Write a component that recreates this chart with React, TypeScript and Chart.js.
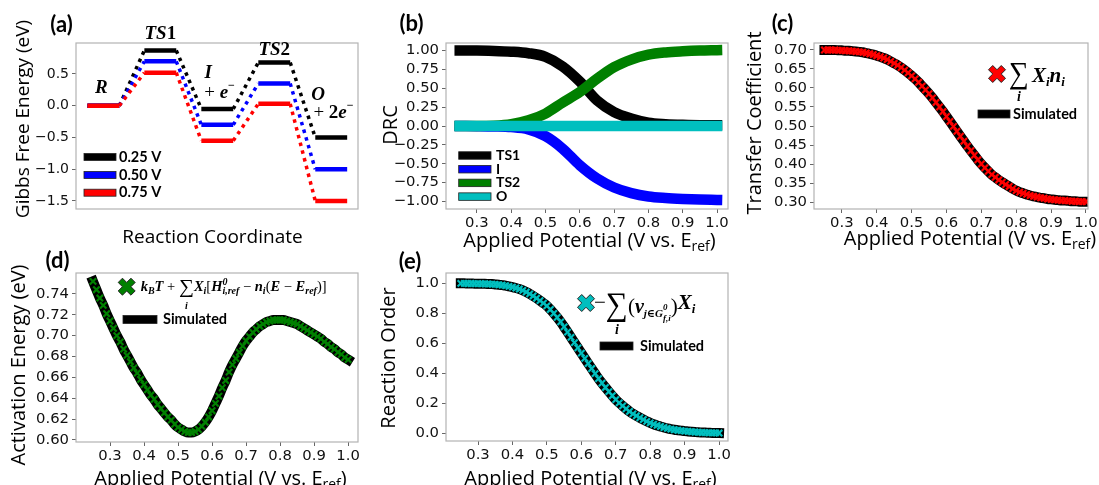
import React, { useEffect, useRef } from "react";
import { Chart, registerables } from "chart.js";

Chart.register(...registerables);

// ---------------- data ----------------
// (a) free-energy diagram
const A_STATES = ["R", "TS1", "I", "TS2", "O"];
const A_SERIES = ["0.25 V", "0.50 V", "0.75 V"];
const A_G_025 = [0, 0.87, -0.05, 0.68, -0.5];
const A_G_050 = [0, 0.7, -0.3, 0.35, -1.0];
const A_G_075 = [0, 0.52, -0.55, 0.03, -1.5];
const A_Y_TICKS = [-1.5, -1.0, -0.5, 0.0, 0.5];

// (b) degree of rate control
const B_POT = [0.25, 0.3, 0.35, 0.4, 0.45, 0.5, 0.55, 0.6, 0.65, 0.7, 0.75, 0.8, 0.85, 0.9, 0.95, 1.0];
const B_TS1 = [1.0, 1.0, 0.995, 0.985, 0.965, 0.917, 0.79, 0.59, 0.34, 0.185, 0.1, 0.045, 0.025, 0.015, 0.01, 0.01];
const B_I = [0.0, -0.002, -0.006, -0.015, -0.045, -0.135, -0.3, -0.52, -0.695, -0.815, -0.89, -0.935, -0.955, -0.967, -0.975, -0.98];
const B_TS2 = [0.0, 0.0, 0.005, 0.025, 0.075, 0.165, 0.31, 0.45, 0.625, 0.78, 0.88, 0.945, 0.975, 0.99, 1.0, 1.005];
const B_O = [0, 0, 0, 0, 0, 0, 0, 0, 0, 0, 0, 0, 0, 0, 0, 0];
const B_LABELS = ["TS1", "I", "TS2", "O"];
const B_Y_TICKS = [-1.0, -0.75, -0.5, -0.25, 0.0, 0.25, 0.5, 0.75, 1.0];
const POT_TICKS = [0.3, 0.4, 0.5, 0.6, 0.7, 0.8, 0.9, 1.0];

// (c)-(e) fine potential grid
const POT = [
  0.25, 0.26, 0.27, 0.28, 0.29, 0.3, 0.31, 0.32, 0.33, 0.34, 0.35, 0.36, 0.37, 0.38, 0.39, 0.4,
  0.41, 0.42, 0.43, 0.44, 0.45, 0.46, 0.47, 0.48, 0.49, 0.5, 0.51, 0.52, 0.53, 0.54, 0.55,
  0.56, 0.57, 0.58, 0.59, 0.6, 0.61, 0.62, 0.63, 0.64, 0.65, 0.66, 0.67, 0.68, 0.69, 0.7,
  0.71, 0.72, 0.73, 0.74, 0.75, 0.76, 0.77, 0.78, 0.79, 0.8, 0.81, 0.82, 0.83, 0.84, 0.85,
  0.86, 0.87, 0.88, 0.89, 0.9, 0.91, 0.92, 0.93, 0.94, 0.95, 0.96, 0.97, 0.98, 0.99, 1.0,
];
const C_TRANSFER = [
  0.7, 0.7, 0.7, 0.7, 0.699, 0.699, 0.698, 0.698, 0.697, 0.696, 0.695, 0.694, 0.692, 0.69, 0.688, 0.685,
  0.682, 0.679, 0.675, 0.67, 0.665, 0.66, 0.654, 0.647, 0.64, 0.632, 0.624, 0.615, 0.605, 0.595, 0.585,
  0.574, 0.562, 0.55, 0.538, 0.525, 0.512, 0.499, 0.486, 0.473, 0.46, 0.447, 0.435, 0.423, 0.411, 0.4,
  0.39, 0.381, 0.372, 0.365, 0.358, 0.352, 0.346, 0.341, 0.335, 0.33, 0.326, 0.323, 0.32, 0.317, 0.315,
  0.313, 0.311, 0.31, 0.308, 0.307, 0.306, 0.305, 0.304, 0.304, 0.303, 0.302, 0.302, 0.301, 0.301, 0.301,
];
const C_Y_TICKS = [0.3, 0.35, 0.4, 0.45, 0.5, 0.55, 0.6, 0.65, 0.7];
const D_EA = [
  0.752, 0.744, 0.736, 0.729, 0.721, 0.714, 0.707, 0.7, 0.694, 0.687, 0.681, 0.675, 0.669, 0.664, 0.658, 0.653,
  0.648, 0.643, 0.639, 0.634, 0.63, 0.626, 0.622, 0.619, 0.615, 0.612, 0.61, 0.608, 0.607, 0.607, 0.608,
  0.61, 0.613, 0.617, 0.622, 0.628, 0.635, 0.642, 0.65, 0.657, 0.665, 0.672, 0.678, 0.684, 0.69, 0.695,
  0.699, 0.703, 0.706, 0.709, 0.711, 0.713, 0.714, 0.715, 0.715, 0.715, 0.715, 0.714, 0.713, 0.712, 0.711,
  0.709, 0.707, 0.705, 0.703, 0.701, 0.699, 0.697, 0.694, 0.692, 0.689, 0.687, 0.684, 0.682, 0.679, 0.677,
];
const D_Y_TICKS = [0.6, 0.62, 0.64, 0.66, 0.68, 0.7, 0.72, 0.74];
const E_ORDER = [
  1.0, 1.0, 0.999, 0.999, 0.998, 0.998, 0.997, 0.997, 0.996, 0.995, 0.993, 0.991, 0.988, 0.985, 0.98, 0.975,
  0.969, 0.962, 0.953, 0.942, 0.93, 0.916, 0.901, 0.885, 0.868, 0.85, 0.826, 0.8, 0.773, 0.743, 0.71,
  0.675, 0.64, 0.605, 0.57, 0.535, 0.5, 0.466, 0.432, 0.398, 0.365, 0.335, 0.306, 0.278, 0.251, 0.225,
  0.203, 0.183, 0.164, 0.146, 0.13, 0.117, 0.104, 0.092, 0.08, 0.07, 0.061, 0.053, 0.046, 0.039, 0.033,
  0.028, 0.024, 0.021, 0.018, 0.015, 0.013, 0.011, 0.009, 0.007, 0.006, 0.005, 0.004, 0.003, 0.003, 0.002,
];
const E_Y_TICKS = [0.0, 0.2, 0.4, 0.6, 0.8, 1.0];

// ---------------- style ----------------
const BLACK = "#000000";
const BLUE = "#0000ff";
const RED = "#ff0000";
const GREEN = "#008000";
const CYAN = "#00bfbf";
const A_COLORS = [BLACK, BLUE, RED];
const B_COLORS = [BLACK, BLUE, GREEN, CYAN];
const SANS = "'Open Sans', 'DejaVu Sans', sans-serif";
const TICK = "'DejaVu Sans', sans-serif";
const LBL = "Lato, 'Open Sans', sans-serif";
const MATH = "'Liberation Serif', 'DejaVu Serif', serif";
const bi = (s: number) => `bold italic ${s}px ${MATH}`;
const bm = (s: number) => `bold ${s}px ${MATH}`;
const rm = (s: number) => `${s}px ${MATH}`;
const LEVEL_W = 0.56;

type Run = {
  t: string; f: string; dy?: number; dx?: number; noAdv?: boolean;
  box?: [number, number];
  under?: { t: string; f: string; dy: number };
};

function runsWidth(ctx: CanvasRenderingContext2D, runs: Run[]) {
  let w = 0;
  for (const r of runs) {
    ctx.font = r.f;
    w += (r.dx || 0) + (r.noAdv ? 0 : ctx.measureText(r.t).width);
  }
  return w;
}

function drawRuns(ctx: CanvasRenderingContext2D, x: number, y: number, runs: Run[], align: "left" | "center" = "left", color = "#000") {
  const total = runsWidth(ctx, runs);
  let cx = align === "center" ? x - total / 2 : x;
  ctx.textAlign = "left";
  ctx.textBaseline = "alphabetic";
  ctx.fillStyle = color;
  for (const r of runs) {
    ctx.font = r.f;
    cx += r.dx || 0;
    const m = ctx.measureText(r.t);
    const w = m.width;
    if (r.box) {
      // stretch glyph vertically so its ink spans [y+box0, y+box1]
      const asc = m.actualBoundingBoxAscent || 0;
      const desc = m.actualBoundingBoxDescent || 0;
      const sy = (r.box[1] - r.box[0]) / Math.max(1, asc + desc);
      ctx.save();
      ctx.translate(cx, y + r.box[1] - desc * sy);
      ctx.scale(1, sy);
      ctx.fillText(r.t, 0, 0);
      ctx.restore();
    } else {
      ctx.fillText(r.t, cx, y + (r.dy || 0));
    }
    if (r.under) {
      ctx.font = r.under.f;
      const uw = ctx.measureText(r.under.t).width;
      ctx.fillText(r.under.t, cx + w / 2 - uw / 2, y + r.under.dy);
    }
    if (!r.noAdv) cx += w;
  }
}

function panelLabel(ctx: CanvasRenderingContext2D, t: string, x: number, y: number) {
  ctx.font = `bold 22px ${LBL}`;
  ctx.fillStyle = "#000";
  ctx.textAlign = "center";
  ctx.textBaseline = "middle";
  ctx.fillText(t, x, y);
}

function yTitle(ctx: CanvasRenderingContext2D, t: string, x: number, y: number, size: number) {
  ctx.save();
  ctx.translate(x, y);
  ctx.rotate(-Math.PI / 2);
  ctx.font = `${size}px ${SANS}`;
  ctx.fillStyle = "#000";
  ctx.textAlign = "center";
  ctx.textBaseline = "middle";
  ctx.fillText(t, 0, 0);
  ctx.restore();
}

function potentialTitle(ctx: CanvasRenderingContext2D, x: number, y: number, size: number) {
  drawRuns(ctx, x, y, [
    { t: "Applied Potential (V vs. E", f: `${size}px ${SANS}` },
    { t: "ref", f: `${Math.round(size * 0.7)}px ${SANS}`, dy: size * 0.22 },
    { t: ")", f: `${size}px ${SANS}` },
  ], "center");
}

function patch(ctx: CanvasRenderingContext2D, x: number, cy: number, w: number, h: number, color: string) {
  ctx.fillStyle = color;
  ctx.fillRect(x, cy - h / 2, w, h);
  ctx.strokeStyle = "#222";
  ctx.lineWidth = 0.8;
  ctx.strokeRect(x, cy - h / 2, w, h);
}

function legendText(ctx: CanvasRenderingContext2D, t: string, x: number, cy: number, size: number) {
  ctx.font = `bold ${size}px ${LBL}`;
  ctx.fillStyle = "#000";
  ctx.textAlign = "left";
  ctx.textBaseline = "middle";
  ctx.fillText(t, x, cy);
}

function xMarker(ctx: CanvasRenderingContext2D, cx: number, cy: number, h: number, fill: string) {
  const pts = [[-1, -3], [-1, -1], [-3, -1], [-3, 1], [-1, 1], [-1, 3], [1, 3], [1, 1], [3, 1], [3, -1], [1, -1], [1, -3]];
  const s = h / 3;
  const c = Math.SQRT1_2;
  ctx.beginPath();
  pts.forEach(([px, py], i) => {
    const x = cx + (px - py) * c * s;
    const y = cy + (px + py) * c * s;
    if (i === 0) ctx.moveTo(x, y);
    else ctx.lineTo(x, y);
  });
  ctx.closePath();
  ctx.fillStyle = fill;
  ctx.fill();
  ctx.lineWidth = 1;
  ctx.strokeStyle = "#222";
  ctx.stroke();
}

const fmt = (v: number, d: number) => v.toFixed(d).replace("-", "\u2212");

type Panel = {
  left: number; top: number; w: number; h: number;
  area: [number, number, number, number];
};

function axis(p: Panel, horizontal: boolean, min: number, max: number, ticks: number[], dec: number, fontSize = 14.8) {
  const size = horizontal ? p.top + p.h - p.area[3] : p.area[0] - p.left;
  return {
    type: "linear",
    position: horizontal ? "bottom" : "left",
    min,
    max,
    afterBuildTicks: (s: any) => {
      s.ticks = ticks.map((v) => ({ value: v }));
    },
    afterFit: (s: any) => {
      if (horizontal) {
        s.height = size;
        s.paddingLeft = 0;
        s.paddingRight = 0;
      } else {
        s.width = size;
        s.paddingTop = 0;
        s.paddingBottom = 0;
      }
    },
    ticks: {
      display: ticks.length > 0,
      autoSkip: false,
      maxRotation: 0,
      minRotation: 0,
      padding: horizontal ? 1 : 3,
      color: "#111",
      font: { family: TICK, size: fontSize },
      callback: (v: any) => fmt(Number(v), dec),
    },
    grid: {
      display: true,
      drawOnChartArea: false,
      drawTicks: true,
      tickLength: 4,
      tickWidth: 1,
      tickColor: "#666",
      color: "rgba(0,0,0,0)",
    },
    border: { display: false },
  };
}

function config(p: Panel, datasets: any[], x: any, y: any, decorate: (ctx: CanvasRenderingContext2D, chart: any, P: (x: number, y: number) => [number, number]) => void) {
  const P = (x: number, y: number): [number, number] => [x - p.left, y - p.top];
  return {
    type: "line",
    data: { datasets },
    options: {
      animation: false,
      responsive: false,
      devicePixelRatio: 1,
      events: [],
      layout: { padding: { left: 0, bottom: 0, top: p.area[1] - p.top, right: p.left + p.w - p.area[2] } },
      scales: { x, y },
      plugins: { legend: { display: false }, tooltip: { enabled: false }, title: { display: false } },
      elements: { point: { radius: 0 }, line: { tension: 0 } },
    },
    plugins: [
      {
        id: "decor",
        afterDraw(chart: any) {
          const ctx: CanvasRenderingContext2D = chart.ctx;
          const a = chart.chartArea;
          ctx.save();
          ctx.strokeStyle = "#b3b3b3";
          ctx.lineWidth = 1.2;
          ctx.strokeRect(a.left, a.top, a.right - a.left, a.bottom - a.top);
          decorate(ctx, chart, P);
          ctx.restore();
        },
      },
    ],
  };
}

const pts = (xs: number[], ys: number[]) => xs.map((x, i) => ({ x, y: ys[i] }));

// ---------------- panels ----------------
const PA: Panel = { left: 0, top: 0, w: 368, h: 252, area: [76, 43, 358, 209] };
const PB: Panel = { left: 368, top: 0, w: 367, h: 252, area: [446, 43, 728, 209] };
const PC: Panel = { left: 735, top: 0, w: 364, h: 252, area: [814, 43, 1088, 209] };
const PD: Panel = { left: 0, top: 240, w: 368, h: 245, area: [76, 273, 358, 442] };
const PE: Panel = { left: 368, top: 240, w: 367, h: 245, area: [446, 273, 728, 441] };

function buildA() {
  const series = [A_G_025, A_G_050, A_G_075];
  const datasets: any[] = [];
  series.forEach((g, k) => {
    const levels: any[] = [];
    const links: any[] = [];
    A_STATES.forEach((_, i) => {
      levels.push({ x: i, y: g[i] }, { x: i + LEVEL_W, y: g[i] }, { x: i + LEVEL_W, y: null });
      if (i < A_STATES.length - 1) {
        links.push({ x: i + LEVEL_W, y: g[i] }, { x: i + 1, y: g[i + 1] }, { x: i + 1, y: null });
      }
    });
    const ord = (2 - k) * 2;
    datasets.push({ label: A_SERIES[k], data: levels, borderColor: A_COLORS[k], borderWidth: 4.5, borderCapStyle: "butt", spanGaps: false, clip: 0, order: ord });
    datasets.push({ label: A_SERIES[k] + " link", data: links, borderColor: A_COLORS[k], borderWidth: 3.5, borderDash: [3.5, 4.5], borderCapStyle: "butt", spanGaps: false, clip: 0, order: ord + 1 });
  });
  return config(PA, datasets, axis(PA, true, -0.2, 4.75, [], 1), axis(PA, false, -1.626, 0.988, A_Y_TICKS, 1, 14), (ctx, chart, P) => {
    panelLabel(ctx, "(a)", ...P(61.5, 25));
    yTitle(ctx, "Gibbs Free Energy (eV)", ...P(24, 119), 19);
    ctx.font = `19px ${SANS}`;
    ctx.fillStyle = "#000";
    ctx.textAlign = "center";
    ctx.textBaseline = "alphabetic";
    ctx.fillText("Reaction Coordinate", ...P(212.5, 242.5));
    const rows = [157, 175, 192.7];
    A_SERIES.forEach((s, k) => {
      const [lx, ly] = P(84, rows[k]);
      patch(ctx, lx, ly, 32, 7, A_COLORS[k]);
      legendText(ctx, s, lx + 35, ly, 14.5);
    });
    const sx = chart.scales.x;
    const sy = chart.scales.y;
    const at = (x: number, y: number, runs: Run[]) => drawRuns(ctx, sx.getPixelForValue(x), sy.getPixelForValue(y), runs, "center");
    at(0.245, 0.2, [{ t: "R", f: bi(19) }]);
    at(1.28, 1.05, [{ t: "TS", f: bi(19) }, { t: "1", f: bm(19) }]);
    at(2.12, 0.437, [{ t: "I", f: bi(19) }]);
    at(2.32, 0.122, [{ t: "+ ", f: rm(19) }, { t: "e", f: bi(19) }, { t: "\u2212", f: bm(12), dy: -9 }]);
    at(3.28, 0.8, [{ t: "TS", f: bi(19) }, { t: "2", f: bm(19) }]);
    at(4.05, 0.09, [{ t: "O", f: bi(19) }]);
    at(4.32, -0.193, [{ t: "+ ", f: rm(19) }, { t: "2", f: bm(19) }, { t: "e", f: bi(19) }, { t: "\u2212", f: bm(12), dy: -9 }]);
  });
}

function buildB() {
  const ys = [B_TS1, B_I, B_TS2, B_O];
  const orders = [3, 2, 1, 0];
  const datasets = ys.map((v, k) => ({
    label: B_LABELS[k],
    data: pts(B_POT, v),
    borderColor: B_COLORS[k],
    borderWidth: 10.5,
    borderCapStyle: "square",
    cubicInterpolationMode: "monotone",
    clip: 0,
    order: orders[k],
  }));
  return config(PB, datasets, axis(PB, true, 0.21, 1.032, POT_TICKS, 1), axis(PB, false, -1.1, 1.1, B_Y_TICKS, 2), (ctx, chart, P) => {
    panelLabel(ctx, "(b)", ...P(411.5, 24));
    yTitle(ctx, "DRC", ...P(391, 125), 20);
    potentialTitle(ctx, ...P(589.5, 247), 20);
    B_LABELS.forEach((s, k) => {
      const [lx, ly] = P(458.7, 155.5 + k * 13.7);
      patch(ctx, lx, ly, 32.3, 7.5, B_COLORS[k]);
      legendText(ctx, s, lx + 37.3, ly, 14);
    });
  });
}

function modelChart(p: Panel, values: number[], color: string, yMin: number, yMax: number, xMax: number, xMin: number, yTicks: number[], dec: number, decorate: any) {
  const datasets = [
    { label: "model", data: pts(POT, values), showLine: false, pointStyle: "crossRot", pointRadius: 4.5, pointBorderWidth: 2.2, pointBorderColor: color, pointBackgroundColor: color, clip: 0, order: 0 },
    { label: "Simulated", data: pts(POT, values), borderColor: BLACK, borderWidth: 10, borderCapStyle: "square", cubicInterpolationMode: "monotone", pointRadius: 0, clip: 0, order: 1 },
  ];
  return config(p, datasets, axis(p, true, xMin, xMax, POT_TICKS, 1), axis(p, false, yMin, yMax, yTicks, dec), decorate);
}

function buildC() {
  return modelChart(PC, C_TRANSFER, RED, 0.2816, 0.7184, 1.006, 0.22, C_Y_TICKS, 2, (ctx: CanvasRenderingContext2D, chart: any, P: any) => {
    panelLabel(ctx, "(c)", ...P(782.5, 24));
    yTitle(ctx, "Transfer Coefficient", ...P(755, 123), 20);
    potentialTitle(ctx, ...P(970, 245), 20);
    xMarker(ctx, ...P(997, 74), 9, RED);
    const [mx, my] = P(1009, 82);
    drawRuns(ctx, mx, my, [
      { t: "\u2211", f: rm(28), box: [-20, 7], under: { t: "i", f: bi(14), dy: 19 } },
      { t: "X", f: bi(21), dx: 3 },
      { t: "i", f: bi(13), dy: 4 },
      { t: "n", f: bi(21) },
      { t: "i", f: bi(13), dy: 4 },
    ]);
    const [sx, sy] = P(978, 114);
    patch(ctx, sx, sy, 32, 8, BLACK);
    legendText(ctx, "Simulated", sx + 35, sy, 14.5);
  });
}

function buildD() {
  return modelChart(PD, D_EA, GREEN, 0.598, 0.76, 1.029, 0.2, D_Y_TICKS, 2, (ctx: CanvasRenderingContext2D, chart: any, P: any) => {
    panelLabel(ctx, "(d)", ...P(57.5, 261));
    yTitle(ctx, "Activation Energy (eV)", ...P(19, 365), 20);
    potentialTitle(ctx, ...P(220.5, 485), 20);
    xMarker(ctx, ...P(126.7, 286.7), 9, GREEN);
    const [mx, my] = P(140.7, 291);
    drawRuns(ctx, mx, my, [
      { t: "k", f: bi(14.5) },
      { t: "B", f: bi(10), dy: 3 },
      { t: "T", f: bi(14.5) },
      { t: " + ", f: rm(14.5) },
      { t: "\u2211", f: rm(21), box: [-11, 7], under: { t: "i", f: bi(10), dy: 17.5 } },
      { t: "X", f: bi(14.5) },
      { t: "i", f: bi(10), dy: 3 },
      { t: "[", f: rm(14.5) },
      { t: "H", f: bi(14.5) },
      { t: "0", f: bi(10), dy: -6, noAdv: true },
      { t: "i,ref", f: bi(10), dy: 3 },
      { t: " \u2212 ", f: rm(14.5) },
      { t: "n", f: bi(14.5) },
      { t: "i", f: bi(10), dy: 3 },
      { t: "(", f: rm(14.5) },
      { t: "E", f: bi(14.5) },
      { t: " \u2212 ", f: rm(14.5) },
      { t: "E", f: bi(14.5) },
      { t: "ref", f: bi(10), dy: 3 },
      { t: ")]", f: rm(14.5) },
    ]);
    const [sx, sy] = P(123, 319.5);
    patch(ctx, sx, sy, 34, 8, BLACK);
    legendText(ctx, "Simulated", sx + 40, sy, 14.5);
  });
}

function buildE() {
  return modelChart(PE, E_ORDER, CYAN, -0.051, 1.069, 1.026, 0.207, E_Y_TICKS, 1, (ctx: CanvasRenderingContext2D, chart: any, P: any) => {
    panelLabel(ctx, "(e)", ...P(410, 261.5));
    yTitle(ctx, "Reaction Order", ...P(389, 358), 20);
    potentialTitle(ctx, ...P(590.5, 485), 20);
    xMarker(ctx, ...P(586, 303), 9, CYAN);
    const [mx, my] = P(594, 313);
    drawRuns(ctx, mx, my, [
      { t: "\u2212", f: rm(21), dy: -4 },
      { t: "\u2211", f: rm(31), box: [-21, 9], under: { t: "i", f: bi(14), dy: 21 } },
      { t: "(", f: rm(21) },
      { t: "\u03bd", f: bi(20) },
      { t: "j\u2208G", f: bi(11), dy: 4 },
      { t: "0", f: bi(9), dy: -3, noAdv: true },
      { t: "f,i", f: bi(9), dy: 8 },
      { t: ")", f: rm(21) },
      { t: "X", f: bi(21), dy: -4 },
      { t: "i", f: bi(13), dy: 0 },
    ]);
    const [sx, sy] = P(600, 346);
    patch(ctx, sx, sy, 33, 8, BLACK);
    legendText(ctx, "Simulated", sx + 40, sy, 14.5);
  });
}

const PANELS = [
  { p: PA, build: buildA },
  { p: PB, build: buildB },
  { p: PC, build: buildC },
  { p: PD, build: buildD },
  { p: PE, build: buildE },
];

export default function App() {
  const refs = useRef<(HTMLCanvasElement | null)[]>([]);
  useEffect(() => {
    const charts: Chart[] = PANELS.map((pn, i) => new Chart(refs.current[i] as HTMLCanvasElement, pn.build() as any));
    let alive = true;
    const fonts = [`14.8px "DejaVu Sans"`, `20px "Open Sans"`, `bold 14px Lato`, `bold italic 17px "Liberation Serif"`, `bold 17px "Liberation Serif"`, `17px "Liberation Serif"`];
    Promise.all(fonts.map((f) => document.fonts.load(f).catch(() => null))).then(() => {
      if (alive) charts.forEach((c) => c.update());
    });
    return () => {
      alive = false;
      charts.forEach((c) => c.destroy());
    };
  }, []);
  return (
    <div style={{ position: "absolute", left: 0, top: 0, width: 1099, height: 485, background: "#fff", overflow: "hidden" }}>
      {PANELS.map((pn, i) => (
        <canvas
          key={i}
          ref={(el) => {
            refs.current[i] = el;
          }}
          width={pn.p.w}
          height={pn.p.h}
          style={{ position: "absolute", left: pn.p.left, top: pn.p.top, width: pn.p.w, height: pn.p.h }}
        />
      ))}
    </div>
  );
}
